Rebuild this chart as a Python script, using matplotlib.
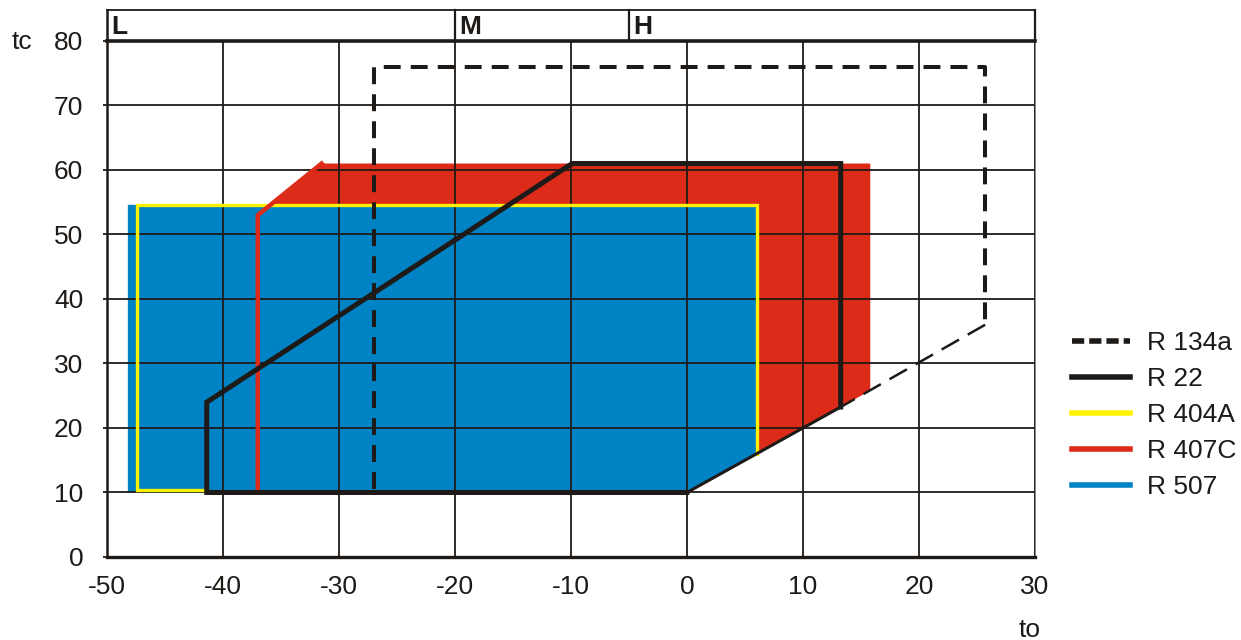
import matplotlib.pyplot as plt
from matplotlib.lines import Line2D
from matplotlib.patches import Polygon

plt.rcParams['font.family'] = ['Liberation Sans', 'DejaVu Sans']
plt.rcParams['axes.unicode_minus'] = False

# application envelopes (to = evaporating temp, tc = condensing temp)
r507_to = [-48.2, -48.2, 6.0, 6.0, 0.0]
r507_tc = [10.0, 54.6, 54.6, 16.0, 10.0]

r404a_to = [-41.4, -47.4, -47.4, 6.0, 6.0]
r404a_tc = [10.4, 10.4, 54.6, 54.6, 16.0]

r407c_to = [-37.0, -37.0, -31.5, 15.8, 15.8, 0.0]
r407c_tc = [10.0, 53.0, 61.0, 61.0, 25.8, 10.0]
r407c_line_to = [-37.0, -37.0, -31.5]
r407c_line_tc = [10.6, 53.0, 61.0]

r22_to = [0.0, -41.4, -41.4, -9.9, 13.25, 13.25]
r22_tc = [10.0, 10.0, 24.0, 61.0, 61.0, 23.25]
r22_diag_to = [0.0, 13.25]
r22_diag_tc = [10.0, 23.25]

r134a_to = [-27.0, -27.0, 25.7, 25.7]
r134a_tc = [10.5, 76.0, 76.0, 36.0]
r134a_diag_to = [25.7, 13.25]
r134a_diag_tc = [36.0, 23.25]

zones = ['L', 'M', 'H']
zone_start = [-50, -20, -5]

blue = '#0083c4'
red = '#dc2b19'
yellow = '#fff200'
ink = '#1e1a17'
fs = 19

fig = plt.figure(figsize=(12.41, 6.4), dpi=100)
ax = fig.add_axes([0.0862, 0.1297, 0.7478, 0.8063])

ax.add_patch(Polygon(list(zip(r407c_to, r407c_tc)), closed=True, fc=red, ec='none', zorder=1))
ax.add_patch(Polygon(list(zip(r507_to, r507_tc)), closed=True, fc=blue, ec='none', zorder=2))
ax.plot(r404a_to, r404a_tc, color=yellow, lw=2.4, zorder=3, solid_joinstyle='miter')
ax.plot(r407c_line_to, r407c_line_tc, color=red, lw=3.2, zorder=3)

ax.set_xlim(-50, 30)
ax.set_ylim(0, 80)
ax.set_xticks(range(-50, 31, 10))
ax.set_yticks(range(0, 81, 10))
ax.grid(True, color=ink, lw=1.3, zorder=4)
ax.set_axisbelow(False)
for ln in ax.get_xgridlines() + ax.get_ygridlines():
    ln.set_zorder(4)
ax.tick_params(axis='both', labelsize=fs, colors=ink)
ax.tick_params(axis='x', length=0, pad=13)
ax.tick_params(axis='y', length=3, width=1.3, pad=14)

ax.plot(r22_to, r22_tc, color=ink, lw=3.6, zorder=6, solid_joinstyle='miter')
ax.plot(r22_diag_to, r22_diag_tc, color=ink, lw=2.2, zorder=6)
ax.plot(r134a_to, r134a_tc, color=ink, lw=2.9, zorder=5, dashes=(4.2, 2.5))
ax.plot(r134a_diag_to, r134a_diag_tc, color=ink, lw=1.8, zorder=5, dashes=(8, 4))

ax.spines['top'].set_visible(False)
ax.spines['left'].set_linewidth(1.8)
ax.spines['left'].set_color(ink)
ax.spines['bottom'].set_linewidth(2.4)
ax.spines['bottom'].set_color(ink)
ax.spines['right'].set_linewidth(1.2)
ax.spines['right'].set_color('#777777')

# header band with L / M / H
top = 84.8
ax.plot([-50, 30], [80, 80], color=ink, lw=2.6, clip_on=False, zorder=7)
ax.plot([-50, 30], [top, top], color=ink, lw=1.3, clip_on=False, zorder=7)
ax.plot([-50, -50], [80, top], color=ink, lw=1.8, clip_on=False, zorder=7)
ax.plot([30, 30], [80, top], color=ink, lw=1.6, clip_on=False, zorder=7)
for z, x0 in zip(zones, zone_start):
    if x0 > -50:
        ax.plot([x0, x0], [80, top], color=ink, lw=1.6, clip_on=False, zorder=7)
    ax.text(x0 + 0.4, 82.2, z, fontsize=fs, fontweight='bold', color=ink,
            ha='left', va='center', clip_on=False)

fig.text(0.0097, 0.935, 'tc', fontsize=fs, color=ink, ha='left', va='center')
fig.text(0.830, 0.016, 'to', fontsize=fs, color=ink, ha='center', va='center')

handles = [
    Line2D([], [], color=ink, lw=4, dashes=(2.2, 0.9)),
    Line2D([], [], color=ink, lw=4),
    Line2D([], [], color=yellow, lw=4),
    Line2D([], [], color=red, lw=4),
    Line2D([], [], color=blue, lw=4),
]
labels = ['R 134a', 'R 22', 'R 404A', 'R 407C', 'R 507']
ax.legend(handles, labels, loc='center left', bbox_to_anchor=(1.014, 0.275),
          frameon=False, fontsize=fs, handlelength=2.2, handletextpad=0.65,
          labelspacing=0.45, labelcolor=ink)

fig.savefig('out.png', dpi=100)
